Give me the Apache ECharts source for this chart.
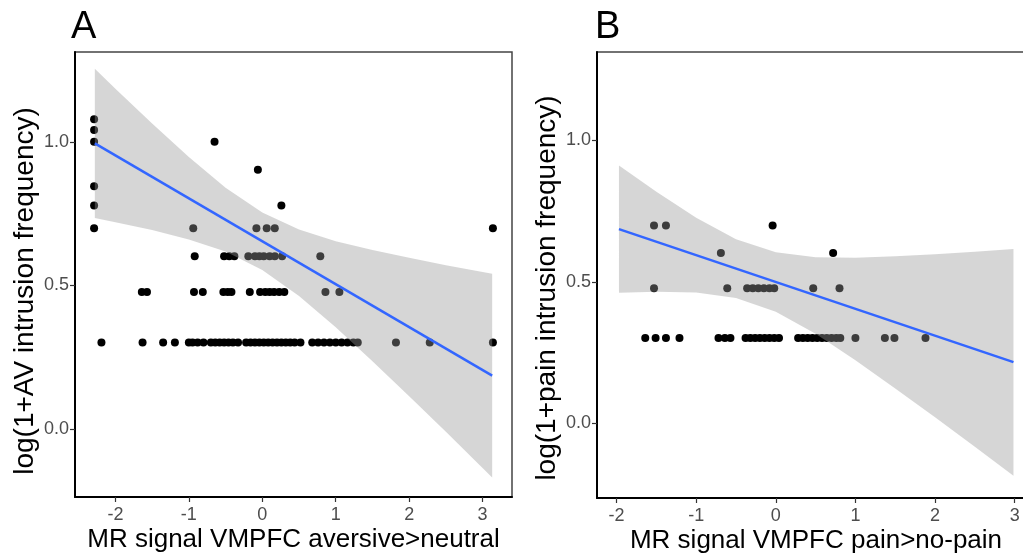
<!DOCTYPE html>
<html>
<head>
<meta charset="utf-8">
<script src="https://cdn.jsdelivr.net/npm/echarts@6/dist/echarts.min.js"></script>
<style>
  html, body { margin: 0; padding: 0; background: #fff; }
  #main { width: 1023px; height: 554px; }
</style>
</head>
<body>
<div id="main"></div>
<script>
// A: aversive>neutral 散点 (x = MR signal, y = log(1+freq))
var aX = [-2.29, -2.29, -2.29, -2.29, -2.29, -2.29,
  -0.65, -0.06, 0.26,
  -0.94, -0.08, 0.06, 0.17, 3.14,
  -0.92, -0.52, -0.45, -0.38, -0.19, -0.10, -0.04, 0.02, 0.10, 0.17, 0.27, 0.79,
  -1.64, -1.57, -0.93, -0.81, -0.53, -0.47, -0.42, -0.17, -0.03, 0.04, 0.10, 0.16, 0.23, 0.30, 0.86, 1.05,
  -2.19, -1.63, -1.35, -1.19, -1.00, -0.95, -0.88, -0.80, -0.70, -0.64, -0.58, -0.52, -0.46, -0.40, -0.33,
  -0.22, -0.16, -0.10, -0.04, 0.02, 0.08, 0.14, 0.20, 0.26, 0.32, 0.38, 0.44, 0.52, 0.68, 0.76, 0.84, 0.92,
  1.00, 1.08, 1.16, 1.24, 1.30, 1.82, 2.28, 3.14];
var aY = [1.079, 1.041, 1.000, 0.845, 0.778, 0.699,
  1.000, 0.903, 0.778,
  0.699, 0.699, 0.699, 0.699, 0.699,
  0.602, 0.602, 0.602, 0.602, 0.602, 0.602, 0.602, 0.602, 0.602, 0.602, 0.602, 0.602,
  0.477, 0.477, 0.477, 0.477, 0.477, 0.477, 0.477, 0.477, 0.477, 0.477, 0.477, 0.477, 0.477, 0.477, 0.477, 0.477,
  0.301, 0.301, 0.301, 0.301, 0.301, 0.301, 0.301, 0.301, 0.301, 0.301, 0.301, 0.301, 0.301, 0.301, 0.301,
  0.301, 0.301, 0.301, 0.301, 0.301, 0.301, 0.301, 0.301, 0.301, 0.301, 0.301, 0.301, 0.301, 0.301, 0.301, 0.301, 0.301,
  0.301, 0.301, 0.301, 0.301, 0.301, 0.301, 0.301, 0.301];
// A: 回归线和置信带
var aFitX = [-2.28, 3.13];
var aFitY = [0.995, 0.186];
var aBandX = [-2.28, -2.0, -1.5, -1.0, -0.5, 0.0, 0.5, 1.0, 1.5, 2.0, 2.5, 3.13];
var aBandUp = [1.255, 1.185, 1.064, 0.947, 0.840, 0.754, 0.695, 0.654, 0.623, 0.596, 0.570, 0.541];
var aBandLo = [0.735, 0.720, 0.693, 0.660, 0.618, 0.554, 0.463, 0.354, 0.236, 0.114, -0.010, -0.169];

// B: pain>no-pain 散点
var bX = [-1.53, -1.38, -0.04,
  -0.69, 0.72,
  -1.53, -0.61, -0.36, -0.29, -0.22, -0.15, -0.08, -0.02, 0.47, 0.80,
  -1.64, -1.51, -1.38, -1.21, -0.72, -0.64, -0.57, -0.38, -0.32, -0.26, -0.20, -0.14, -0.08, -0.02, 0.04,
  0.28, 0.34, 0.40, 0.46, 0.52, 0.58, 0.64, 0.70, 0.76, 0.81, 1.00, 1.37, 1.49, 1.88];
var bY = [0.699, 0.699, 0.699,
  0.602, 0.602,
  0.477, 0.477, 0.477, 0.477, 0.477, 0.477, 0.477, 0.477, 0.477, 0.477,
  0.301, 0.301, 0.301, 0.301, 0.301, 0.301, 0.301, 0.301, 0.301, 0.301, 0.301, 0.301, 0.301, 0.301, 0.301,
  0.301, 0.301, 0.301, 0.301, 0.301, 0.301, 0.301, 0.301, 0.301, 0.301, 0.301, 0.301, 0.301, 0.301];
var bFitX = [-1.97, 2.985];
var bFitY = [0.686, 0.216];
var bBandX = [-1.97, -1.5, -1.0, -0.5, 0.0, 0.5, 1.0, 1.5, 2.0, 2.5, 2.985];
var bBandUp = [0.911, 0.818, 0.726, 0.650, 0.604, 0.587, 0.585, 0.590, 0.597, 0.606, 0.616];
var bBandLo = [0.461, 0.465, 0.462, 0.443, 0.394, 0.316, 0.223, 0.123, 0.021, -0.083, -0.185];

var xTicks = [-2, -1, 0, 1, 2, 3];
var yTicks = [0, 0.5, 1];

var FONT = 'Liberation Sans';

function pairs(xs, ys) {
    var out = [];
    for (var i = 0; i < xs.length; i++) {
        out.push([xs[i], ys[i]]);
    }
    return out;
}

// 置信带: 一个多边形, 坐标由 api.coord 换算
function bandRender(xs, up, lo) {
    return function (params, api) {
        var pts = [];
        for (var i = 0; i < xs.length; i++) {
            pts.push(api.coord([xs[i], up[i]]));
        }
        for (var j = xs.length - 1; j >= 0; j--) {
            pts.push(api.coord([xs[j], lo[j]]));
        }
        return {
            type: 'polygon',
            shape: { points: pts },
            style: { fill: 'rgba(153,153,153,0.4)' }
        };
    };
}

function xAxisCfg(idx, min, max, name, padLeft) {
    return {
        type: 'value', gridIndex: idx, min: min, max: max,
        name: name, nameLocation: 'middle', nameGap: 30, nameMoveOverlap: false,
        nameTextStyle: { fontFamily: FONT, fontSize: 26, color: '#000', padding: [0, 0, 0, padLeft] },
        axisLine: { onZero: false, lineStyle: { color: '#000', width: 2 } },
        axisTick: { customValues: xTicks, length: 5, lineStyle: { color: '#333', width: 1.2 } },
        axisLabel: { customValues: xTicks, fontFamily: FONT, fontSize: 18, color: '#4d4d4d', margin: 9 },
        splitLine: { show: false }
    };
}

function yAxisCfg(idx, min, max) {
    return {
        type: 'value', gridIndex: idx, min: min, max: max,
        axisLine: { show: true, onZero: false, lineStyle: { color: '#000', width: 2 } },
        axisTick: { show: true, customValues: yTicks, length: 5, lineStyle: { color: '#333', width: 1.2 } },
        axisLabel: {
            customValues: yTicks, fontFamily: FONT, fontSize: 18, color: '#4d4d4d', margin: 6,
            formatter: function (v) { return v.toFixed(1); }
        },
        splitLine: { show: false }
    };
}

// 竖排的 y 轴标题
function yTitle(text, x, y) {
    return {
        type: 'text', x: x, y: y, rotation: Math.PI / 2,
        style: { text: text, font: '28px "Liberation Sans"', fill: '#000', align: 'center', verticalAlign: 'middle' }
    };
}

var myChart = echarts.init(document.getElementById('main'), null, { renderer: 'canvas' });

var option = {
    animation: false,
    backgroundColor: '#fff',
    graphic: [
        { type: 'text', left: 71, top: 9, style: { text: 'A', font: '38px "Liberation Sans"', fill: '#000' } },
        { type: 'text', left: 595, top: 9, style: { text: 'B', font: '38px "Liberation Sans"', fill: '#000' } },
        yTitle('log(1+AV intrusion frequency)', 25, 291),
        yTitle('log(1+pain intrusion frequency)', 547, 288)
    ],
    grid: [
        { left: 75, top: 52, width: 437, height: 445, outerBoundsMode: 'none', containLabel: false,
          show: true, borderColor: '#444', borderWidth: 1.5 },
        { left: 597, top: 52, width: 428, height: 446, outerBoundsMode: 'none', containLabel: false,
          show: true, borderColor: '#444', borderWidth: 1.5 }
    ],
    xAxis: [
        xAxisCfg(0, -2.55, 3.40, 'MR signal VMPFC aversive>neutral', 0),
        xAxisCfg(1, -2.246, 3.13, 'MR signal VMPFC pain>no-pain', 10)
    ],
    yAxis: [
        yAxisCfg(0, -0.237, 1.313),
        yAxisCfg(1, -0.264, 1.312)
    ],
    series: [
        {
            type: 'scatter', xAxisIndex: 0, yAxisIndex: 0, z: 1,
            symbolSize: 8, itemStyle: { color: '#000', opacity: 1 },
            data: pairs(aX, aY)
        },
        {
            type: 'custom', xAxisIndex: 0, yAxisIndex: 0, z: 2, silent: true,
            renderItem: bandRender(aBandX, aBandUp, aBandLo),
            data: [[aBandX[0], aBandUp[0]]]
        },
        {
            type: 'line', xAxisIndex: 0, yAxisIndex: 0, z: 3, symbol: 'none',
            lineStyle: { color: '#3366ff', width: 2.5 },
            data: pairs(aFitX, aFitY)
        },
        {
            type: 'scatter', xAxisIndex: 1, yAxisIndex: 1, z: 1,
            symbolSize: 8, itemStyle: { color: '#000', opacity: 1 },
            data: pairs(bX, bY)
        },
        {
            type: 'custom', xAxisIndex: 1, yAxisIndex: 1, z: 2, silent: true,
            renderItem: bandRender(bBandX, bBandUp, bBandLo),
            data: [[bBandX[0], bBandUp[0]]]
        },
        {
            type: 'line', xAxisIndex: 1, yAxisIndex: 1, z: 3, symbol: 'none',
            lineStyle: { color: '#3366ff', width: 2.5 },
            data: pairs(bFitX, bFitY)
        }
    ]
};

myChart.setOption(option);
</script>
</body>
</html>
